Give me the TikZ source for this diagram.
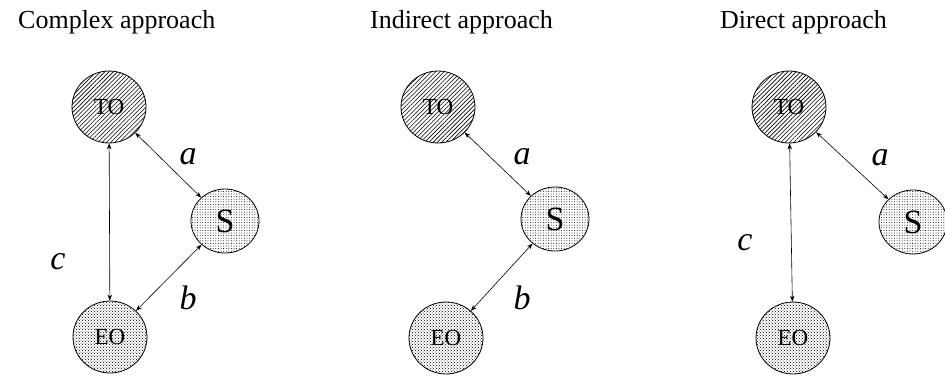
\documentclass[tikz,border=0pt]{standalone}
\usepackage{fontspec}
\setmainfont{Liberation Serif}
\usetikzlibrary{arrows.meta,patterns,patterns.meta,shapes.geometric}
\tikzset{
  bub/.style={ellipse,draw,line width=0.8pt,inner sep=0pt},
  tobub/.style={bub,minimum width=74pt,minimum height=72pt,pattern={Lines[angle=45,distance=3pt,line width=0.6pt]},font=\fontsize{23}{23}\selectfont},
  sbub/.style={bub,minimum width=68pt,minimum height=64pt,pattern={Dots[radius=0.5pt,distance=2.6pt]},font=\fontsize{34}{34}\selectfont},
  eobub/.style={bub,minimum width=74pt,minimum height=72pt,pattern=crosshatch dots,font=\fontsize{23}{23}\selectfont},
  link/.style={{Stealth[length=6pt,width=4.5pt]}-{Stealth[length=6pt,width=4.5pt]},line width=0.6pt},
  ttl/.style={anchor=west,font=\fontsize{26}{26}\selectfont,inner sep=0pt},
  lbl/.style={font=\fontsize{34}{34}\selectfont\itshape,inner sep=0pt}
}
\begin{document}
\begin{tikzpicture}[x=1pt,y=-1pt]
\useasboundingbox (0,0) rectangle (945,376);
% titles
\node[ttl] (t1) at (18,22) {Complex approach};
\node[ttl] (t2) at (370,22) {Indirect approach};
\node[ttl] (t3) at (720,22) {Direct approach};
% complex
\node[tobub] (to1) at (109,107) {TO};
\node[sbub] (s1) at (225,221) {S};
\node[eobub] (eo1) at (110,337) {EO};
\draw[link] (to1) -- (s1);
\draw[link] (s1) -- (eo1);
\draw[link] (to1) -- (eo1);
\node[lbl] (a1) at (188,157) {a};
\node[lbl] (b1) at (188,298) {b};
\node[lbl] (c1) at (58,262) {c};
% indirect
\node[tobub] (to2) at (438,107) {TO};
\node[sbub] (s2) at (555,219) {S};
\node[eobub] (eo2) at (446,338) {EO};
\draw[link] (to2) -- (s2);
\draw[link] (s2) -- (eo2);
\node[lbl] (a2) at (522,157) {a};
\node[lbl] (b2) at (522,298) {b};
% direct
\node[tobub] (to3) at (789,107) {TO};
\node[sbub] (s3) at (913,222) {S};
\node[eobub] (eo3) at (793,338) {EO};
\draw[link] (to3) -- (s3);
\draw[link] (to3) -- (eo3);
\node[lbl] (a3) at (880,158) {a};
\node[lbl] (c3) at (745,243) {c};
\end{tikzpicture}
\end{document}
